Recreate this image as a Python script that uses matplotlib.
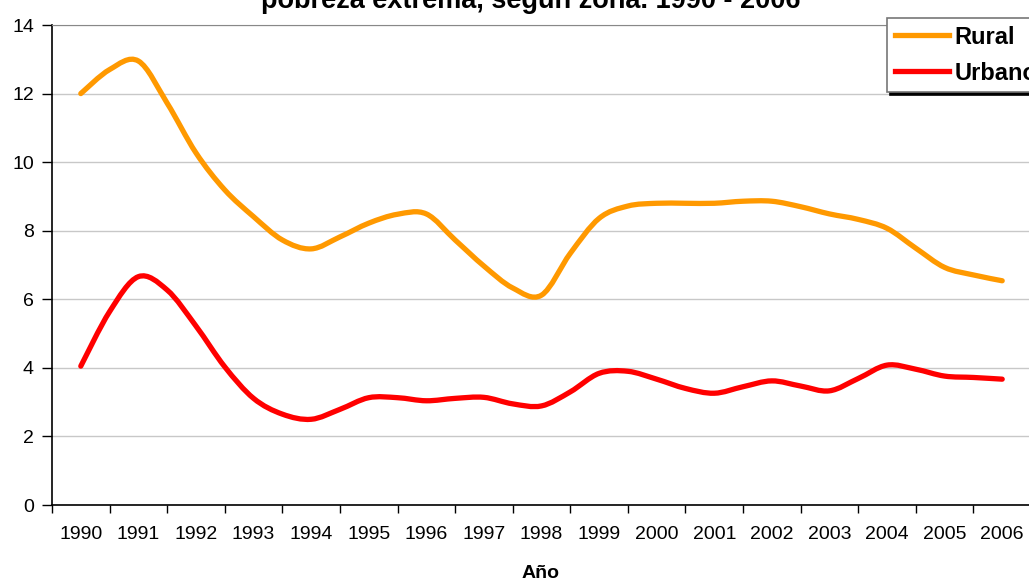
import matplotlib
matplotlib.use('Agg')
import matplotlib.pyplot as plt
from matplotlib.path import Path
from matplotlib.patches import PathPatch
from matplotlib.lines import Line2D

# semestres 1990 - 2006
periodo = [1990 + 0.5 * i for i in range(33)]
rural = [12.0, 12.7, 12.95, 11.72, 10.27, 9.19, 8.41, 7.73, 7.47, 7.82,
         8.22, 8.48, 8.49, 7.73, 6.97, 6.33, 6.12, 7.34, 8.36, 8.72,
         8.80, 8.80, 8.80, 8.86, 8.86, 8.70, 8.49, 8.33, 8.07, 7.49,
         6.93, 6.71, 6.54]
urbano = [4.05, 5.64, 6.66, 6.27, 5.22, 4.03, 3.11, 2.65, 2.50, 2.79,
          3.13, 3.13, 3.04, 3.11, 3.14, 2.95, 2.89, 3.30, 3.84, 3.90,
          3.67, 3.40, 3.26, 3.45, 3.62, 3.47, 3.33, 3.69, 4.08, 3.96,
          3.76, 3.72, 3.67]
anios = list(range(1990, 2007))
yticks = list(range(0, 15, 2))


def curva_suave(x, y):
    # línea suavizada tipo Excel (Bezier por Catmull-Rom)
    verts = [(x[0], y[0])]
    codes = [Path.MOVETO]
    n = len(x)
    for i in range(n - 1):
        x0, y0 = (x[i - 1], y[i - 1]) if i > 0 else (x[i], y[i])
        x3, y3 = (x[i + 2], y[i + 2]) if i + 2 < n else (x[i + 1], y[i + 1])
        c1 = (x[i] + (x[i + 1] - x0) / 6, y[i] + (y[i + 1] - y0) / 6)
        c2 = (x[i + 1] - (x3 - x[i]) / 6, y[i + 1] - (y3 - y[i]) / 6)
        verts += [c1, c2, (x[i + 1], y[i + 1])]
        codes += [Path.CURVE4] * 3
    return Path(verts, codes)


plt.rcParams['font.family'] = ['Liberation Sans', 'DejaVu Sans']

W, H = 1029, 580
fig = plt.figure(figsize=(W / 100, H / 100), dpi=100)
ax = fig.add_axes([52 / W, 75 / H, 979 / W, 480 / H])

series = [('Rural', rural, '#FF9900'), ('Urbano', urbano, '#FF0000')]
handles = []
for nombre, vals, col in series:
    ax.add_patch(PathPatch(curva_suave(periodo, vals), fill=False,
                           edgecolor=col, lw=3.8, joinstyle='round',
                           capstyle='round', zorder=3))
    handles.append(Line2D([], [], color=col, lw=3.8, label=nombre))

ax.set_xlim(anios[0] - 0.5, anios[-1] + 0.5)
ax.set_ylim(0, 14)

# marcas entre categorías, etiquetas centradas
ax.set_xticks([a - 0.5 for a in anios] + [anios[-1] + 0.5])
ax.set_xticklabels([])
ax.set_xticks(anios, minor=True)
ax.set_xticklabels([str(a) for a in anios], minor=True, fontsize=14)
ax.tick_params(axis='x', which='minor', length=0, pad=15)
ax.tick_params(axis='x', which='major', length=6, width=1, color='black')
ax.set_yticks(yticks)
ax.set_yticklabels([str(v) for v in yticks], fontsize=14)
ax.tick_params(axis='y', length=7, width=1, pad=6)

ax.grid(axis='y', color='#c8c8c8', lw=1)
ax.set_axisbelow(True)
for s in ['left', 'bottom']:
    ax.spines[s].set_color('black')
    ax.spines[s].set_linewidth(1.2)
ax.spines['top'].set_color('#888888')
ax.spines['right'].set_color('#888888')

fig.text(531 / W, 1 - 8 / H, 'pobreza extrema, según zona. 1990 - 2006',
         ha='center', va='baseline', fontsize=19.5, fontweight='bold')
fig.text(541 / W, 2 / H, 'Año', ha='center', va='baseline',
         fontsize=14, fontweight='bold')

leg = fig.legend(handles=handles, loc='upper left',
                 bbox_to_anchor=(887 / W, 1 - 18 / H),
                 prop={'weight': 'bold', 'size': 17}, frameon=True,
                 fancybox=False, edgecolor='#777777', framealpha=1,
                 handlelength=2.3, handletextpad=0.25, borderpad=0.32,
                 labelspacing=0.55, borderaxespad=0,
                 shadow={'color': 'black', 'alpha': 1})
leg.get_frame().set_linewidth(1.2)

fig.savefig('out.png', dpi=100)
